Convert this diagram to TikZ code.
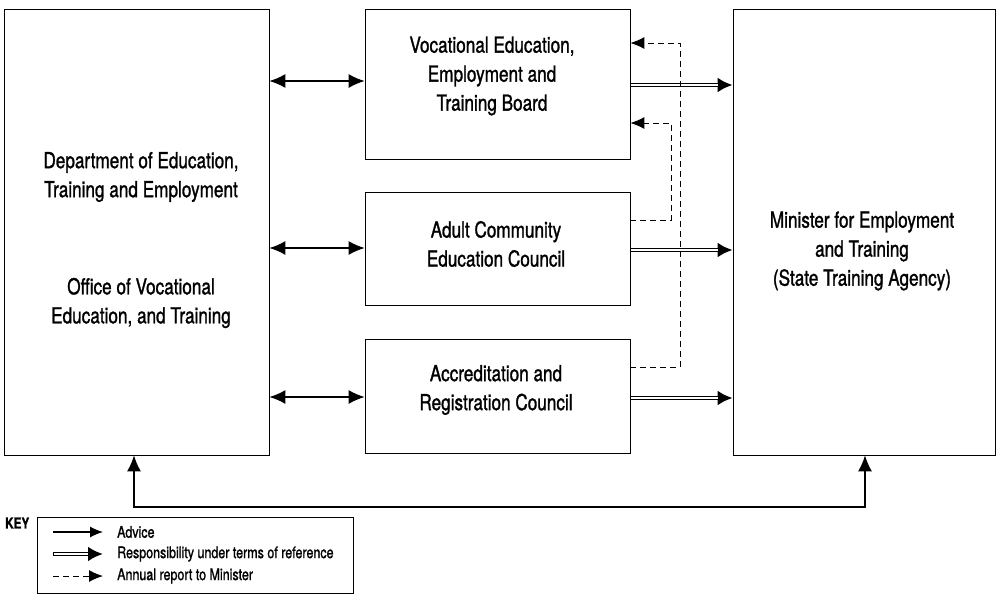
\documentclass[tikz,border=0pt]{standalone}
\usepackage{fontspec}
\setmainfont{TeX Gyre Heros}[FakeStretch=0.78,FakeBold=1.2]
\usetikzlibrary{arrows.meta}

\begin{document}
\begin{tikzpicture}[x=1pt,y=-1pt,>={Latex[length=16pt,width=14pt]},
	box/.style={draw, line width=0.7pt, inner sep=0pt},
	lbl/.style={align=center, font=\fontsize{22}{29}\selectfont},
	keylbl/.style={anchor=west, inner sep=0pt, font=\fontsize{16}{20}\selectfont},
	advice/.style={line width=1.5pt, <->},
	resp/.style={line width=4.6pt, -{Latex[length=15pt,width=15pt]},
		postaction={draw=white, line width=1.8pt, -, shorten >=15pt, shorten <=0.6pt}},
	report/.style={line width=1pt, dash pattern=on 6pt off 4pt, -{Latex[length=14pt,width=12pt]}}]
	\useasboundingbox (0,0) rectangle (999,598);
	% boxes
	\node[box, minimum width=265, minimum height=446] (dept) at (136.5,232) {};
	\node[box, minimum width=265, minimum height=150] (veb) at (497.5,84) {};
	\node[box, minimum width=265, minimum height=113] (acec) at (497.5,248.5) {};
	\node[box, minimum width=265, minimum height=114] (arc) at (497.5,396) {};
	\node[box, minimum width=262, minimum height=446] (min) at (864,232) {};
	% texts
	\node[lbl] (deptlbl) at (141,177) {Department of Education,\\Training and Employment};
	\node[lbl] (ovetlbl) at (141,303) {Office of Vocational\\Education, and Training};
	\node[lbl] (veblbl) at (492,76) {Vocational Education,\\Employment and\\Training Board};
	\node[lbl] (aceclbl) at (496,244) {Adult Community\\Education Council};
	\node[lbl] (arclbl) at (496,390) {Accreditation and\\Registration Council};
	\node[lbl] (minlbl) at (862,251) {Minister for Employment\\and Training\\(State Training Agency)};
	% advice
	\draw[advice] (dept.east |- 0,81) -- (veb.west |- 0,81);
	\draw[advice] (dept.east |- 0,248) -- (acec.west |- 0,248);
	\draw[advice] (dept.east |- 0,397) -- (arc.west |- 0,397);
	\draw[advice] (dept.south -| 134,0) -- (134,507) -- (865,507) -- (min.south -| 865,0);
	% responsibility
	\draw[resp] (veb.east |- 0,85) -- (min.west |- 0,85);
	\draw[resp] (acec.east |- 0,250) -- (min.west |- 0,250);
	\draw[resp] (arc.east |- 0,398) -- (min.west |- 0,398);
	% annual reports
	\draw[report] (acec.east |- 0,220) -- (671,220) -- (671,123) -- (veb.east |- 0,123);
	\draw[report] (arc.east |- 0,367) -- (680,367) -- (680,43) -- (veb.east |- 0,43);
	% key
	\node[anchor=west, inner sep=0pt, font=\fontsize{15}{18}\selectfont\bfseries] (key) at (5,523) {KEY};
	\node[box, minimum width=316, minimum height=76] (keybox) at (195,555) {};
	\node[keylbl] (kadv) at (117,532) {Advice};
	\node[keylbl] (kresp) at (117,554) {Responsibility under terms of reference};
	\node[keylbl] (krep) at (117,576) {Annual report to Minister};
	\draw[line width=1.1pt, -{Latex[length=13pt,width=11pt]}] ([xshift=-64pt]kadv.west) -- ([xshift=-14pt]kadv.west);
	\draw[resp] ([xshift=-64pt]kresp.west) -- ([xshift=-14pt]kresp.west);
	\draw[report] ([xshift=-64pt]krep.west) -- ([xshift=-14pt]krep.west);
\end{tikzpicture}
\end{document}
